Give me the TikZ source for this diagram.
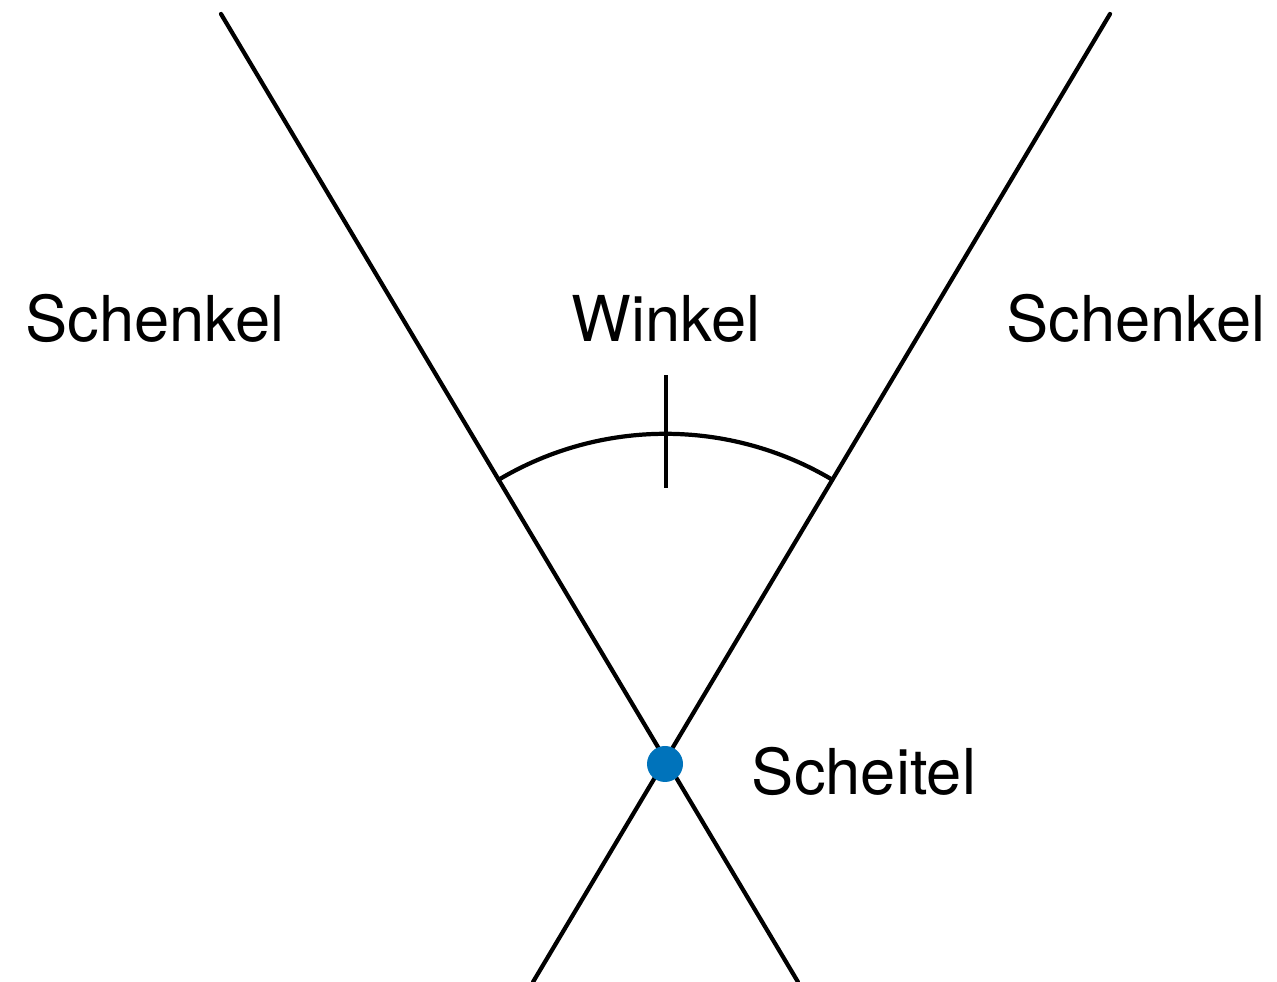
\documentclass[tikz,border=0pt]{standalone}
\usepackage{fontspec}
\setmainfont{TeX Gyre Heros}
\usepackage{xcolor}
\usetikzlibrary{calc}
\definecolor{dotblue}{RGB}{0,115,187}
\tikzset{word/.style = {anchor=base,font=\fontsize{36}{40}\selectfont}}
\tikzset{leg/.style = {line width=2.4pt,line cap=round}}

\begin{document}
\begin{tikzpicture}[x=0.02cm,y=0.02cm]
                \useasboundingbox (0,0) rectangle (1277,982);
                \coordinate (L) at (221,968);
                \coordinate (LB) at (798,0);
                \coordinate (R) at (1110,968);
                \coordinate (RB) at (533,0);
                \coordinate (X) at (intersection of L--LB and R--RB);

                \draw[leg] (L) -- (LB);
                \draw[leg] (R) -- (RB);
                \draw[leg] ($(X)!6.52cm!(L)$) arc[start angle=120.79, end angle=59.21, radius=6.52cm];
                \draw[leg,line cap=butt] (666,494) -- (666,607);

                \node[circle,fill=dotblue,inner sep=0pt,minimum size=0.72cm] (S) at (665,218) {};

                \node[word] (sl) at (155,640) {Schenkel};
                \node[word] (w) at (666,640) {Winkel};
                \node[word] (sr) at (1136,640) {Schenkel};
                \node[word] (sc) at (864,187) {Scheitel};
            \end{tikzpicture}
\end{document}
